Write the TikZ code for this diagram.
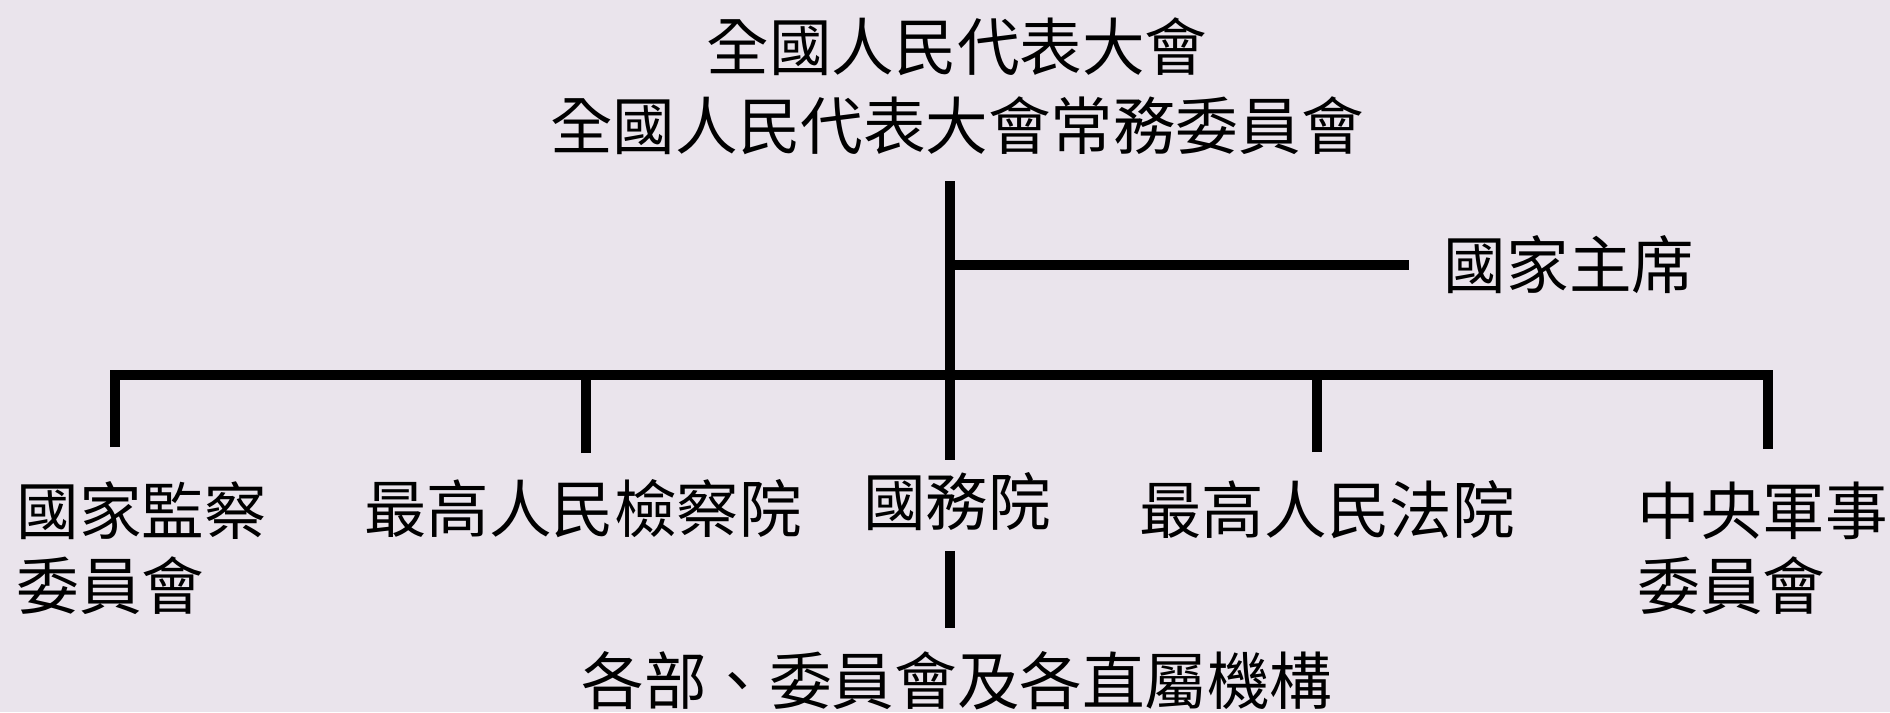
\documentclass[tikz,border=0pt]{standalone}
\usepackage{fontspec}
\newfontfamily\cjk{Noto Sans CJK TC}
\usepackage{tikz}
\definecolor{paper}{RGB}{234,228,236}
\tikzstyle{organ} =
        [
                inner sep = 0pt,
                align = left,
                font = \cjk\fontsize{17.8pt}{21.3pt}\selectfont
        ]
\tikzstyle{title} =
        [
                organ,
                align = center,
                font = \cjk\fontsize{17.8pt}{22.5pt}\selectfont
        ]
\tikzstyle{line} =
        [
                draw,
                line width = 0.95mm
        ]

\begin{document}
\begin{tikzpicture}[x = 0.1mm, y = -0.1mm]
        \fill [paper] (0,0) rectangle (1890,712);
        \useasboundingbox (0,0) rectangle (1890,712);
        \node [title] (npc) at (957,86) {全國人民代表大會 \\ 全國人民代表大會常務委員會};
        \node [organ] (chair) at (1569,265) {國家主席};
        \node [organ] (council) at (957,502) {國務院};
        \node [organ, below of = council, node distance = 17.9mm] (ministries) {各部、委員會及各直屬機構};
        \node [organ, anchor = west] (supervision) at (16,548) {國家監察 \\ 委員會};
        \node [organ] (procuratorate) at (583,509) {最高人民檢察院};
        \node [organ] (court) at (1327,510) {最高人民法院};
        \node [organ, anchor = west] (military) at (1637,548) {中央軍事 \\ 委員會};
        \coordinate (hub) at (950,375);
        \coordinate (supervision end) at (115,447);
        \coordinate (procuratorate end) at (586,453);
        \coordinate (court end) at (1317,452);
        \coordinate (military end) at (1768,449);
        \path [line, shorten <= 2.6mm, shorten >= 1.2mm] (npc.south -| hub) -- (council.north -| hub);
        \path [line, shorten >= 3.4mm] (chair -| hub) -- (chair);
        \path [line] (supervision end) |- (hub) -| (military end);
        \path [line] (procuratorate end) -- (procuratorate end |- hub);
        \path [line] (court end) -- (court end |- hub);
        \path [line, shorten <= 1.9mm, shorten >= 2.3mm] (council.south -| hub) -- (ministries.north -| hub);
\end{tikzpicture}
\end{document}
